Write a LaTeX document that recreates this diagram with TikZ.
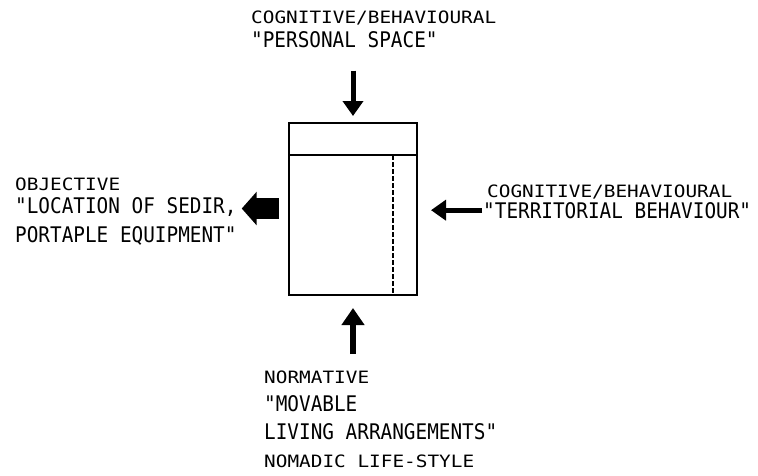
\documentclass[tikz,border=0pt]{standalone}
\usepackage{fontspec}
\newfontfamily\bigmono[FakeStretch=0.9]{DejaVu Sans Mono}
\newfontfamily\smallmono[FakeStretch=1.14]{DejaVu Sans Mono}
\usetikzlibrary{arrows.meta}
\usetikzlibrary{positioning}

\newcommand{\bigtxt}{\bigmono\fontsize{21.5}{25}\selectfont}
\newcommand{\smalltxt}{\smallmono\fontsize{17}{20}\selectfont}

\begin{document}
\begin{tikzpicture}
          [x=1pt, y=-1pt,
           big/.style = {inner sep=0pt, anchor=base west, font=\bigtxt},
           small/.style = {inner sep=0pt, anchor=base west, font=\smalltxt},
           thin arrow/.style = {line width=5pt, -{Triangle[width=20pt, length=15pt]}},
           block arrow/.style = {line width=21pt, -{Triangle[width=33pt, length=15pt]}}]
          \useasboundingbox (0,0) rectangle (758,475);

          % the room
          \node[draw, line width=2pt, minimum width=128pt, minimum height=172pt, inner sep=0pt] (room) at (353,209) {};
          \coordinate (divl) at ([yshift=-33pt]room.north west);
          \coordinate (divr) at ([yshift=-33pt]room.north east);
          \coordinate (dashtop) at ([xshift=-25pt]divr);
          \draw[line width=1.6pt] (divl) -- (divr);
          \draw[line width=2pt, dash pattern=on 5pt off 2pt] (dashtop) -- (dashtop |- room.south);

          % labels
          \node[small] (topcat) at (251,23) {COGNITIVE/BEHAVIOURAL};
          \node[big] (topquote) at ([yshift=-24pt]topcat.base west) {"PERSONAL SPACE"};

          \node[small] (leftcat) at (15,190) {OBJECTIVE};
          \node[big] (sedir) at ([yshift=-23pt]leftcat.base west) {"LOCATION OF SEDIR,};
          \node[big] (equip) at ([yshift=-29pt]sedir.base west) {PORTAPLE EQUIPMENT"};

          \node[small] (rightcat) at (487,197) {COGNITIVE/BEHAVIOURAL};
          \node[big] (terr) at ([xshift=-4pt, yshift=-21pt]rightcat.base west) {"TERRITORIAL BEHAVIOUR"};

          \node[small] (normcat) at (264,383) {NORMATIVE};
          \node[big] (movable) at ([yshift=-28pt]normcat.base west) {"MOVABLE};
          \node[big] (living) at ([yshift=-28pt]movable.base west) {LIVING ARRANGEMENTS"};
          \node[small] (nomadic) at ([yshift=-28pt]living.base west) {NOMADIC LIFE-STYLE};

          % arrows
          \coordinate (sedirpt) at ([yshift=-2pt]sedir.east);
          \draw[thin arrow, shorten <=23pt, shorten >=6pt] (topquote.south -| room.north) -- (room.north);
          \draw[block arrow, shorten <=9pt, shorten >=5pt] (room.west |- sedirpt) -- (sedirpt);
          \draw[thin arrow, shorten <=1pt, shorten >=13pt] (terr.west) -- (terr.west -| room.east);
          \draw[thin arrow, line width=6pt, -{Triangle[width=22pt, length=17pt]}, shorten <=16pt, shorten >=12pt] (normcat.north -| room.south) -- (room.south);
\end{tikzpicture}
\end{document}
